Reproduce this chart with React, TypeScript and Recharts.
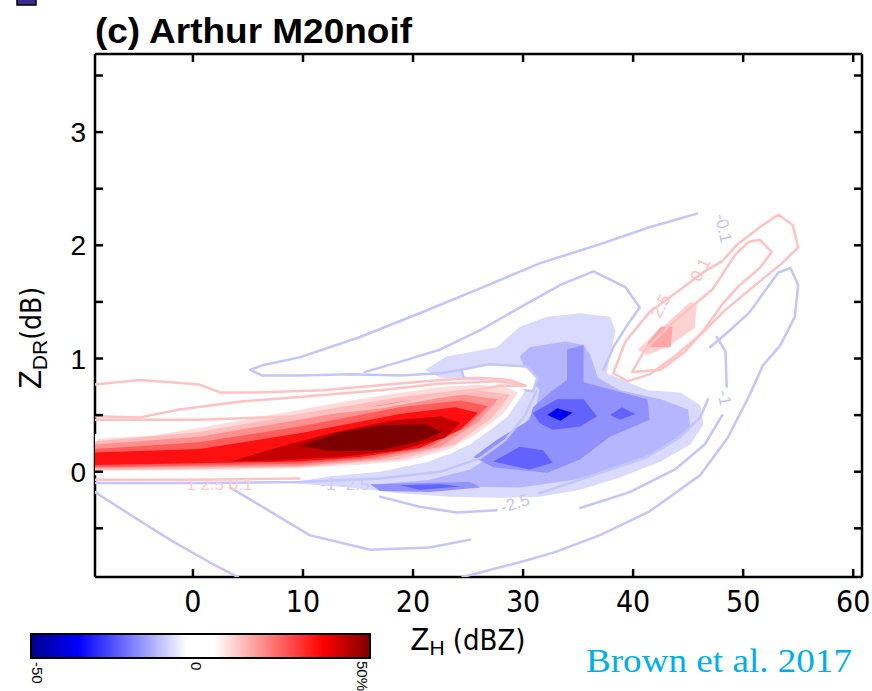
import React from 'react';
import { ScatterChart, Scatter, XAxis, YAxis } from 'recharts';

// axis ticks
const xTicks = [0, 10, 20, 30, 40, 50, 60];
const yTicks = [-0.5, 0, 0.5, 1, 1.5, 2, 2.5, 3, 3.5];
const yLabelled = [0, 1, 2, 3];

// filled contours, positive (red tongue) - [ZH, ZDR]
const red1 = [[-8.9, 0.31], [-3.9, 0.34], [0.6, 0.41], [5.2, 0.49], [9.7, 0.57], [14.3, 0.65], [18.8, 0.72], [22.5, 0.77], [26.1, 0.79], [28.4, 0.77], [29.9, 0.71], [28.4, 0.5], [26.1, 0.33], [23.4, 0.18], [19.7, 0.08], [15.2, 0.04], [9.7, 0.01], [0.6, -0.01], [-8.9, -0.01]];
const red2 = [[-8.9, 0.27], [0.6, 0.35], [9.7, 0.51], [18.8, 0.66], [25.2, 0.73], [28.8, 0.68], [27.2, 0.48], [23.8, 0.24], [18.8, 0.11], [9.7, 0.04], [-8.9, 0.01]];
const red3 = [[-8.9, 0.24], [0.6, 0.31], [9.7, 0.46], [18.8, 0.62], [24.7, 0.68], [27.7, 0.64], [25.9, 0.44], [22.5, 0.22], [17, 0.11], [9.7, 0.05], [-8.9, 0.03]];
const red4 = [[-8.9, 0.2], [0.6, 0.26], [9.7, 0.4], [18.8, 0.57], [24.3, 0.63], [26.8, 0.58], [25, 0.41], [21.5, 0.22], [16.1, 0.12], [9.7, 0.07], [-8.9, 0.04]];
const red5 = [[-8.9, 0.17], [0.6, 0.2], [9.7, 0.34], [18.8, 0.51], [23.8, 0.57], [25.9, 0.52], [24.3, 0.37], [20.6, 0.21], [15.2, 0.13], [9.7, 0.09], [-8.9, 0.06]];
const red6 = [[3.4, 0.09], [7.9, 0.22], [12.5, 0.34], [17.9, 0.45], [22.5, 0.49], [24.3, 0.43], [22.9, 0.3], [18.8, 0.19], [13.4, 0.13], [7.9, 0.1]];
const red7 = [[9.7, 0.23], [13.4, 0.35], [17, 0.41], [21.1, 0.42], [22.6, 0.35], [20.6, 0.27], [17, 0.19], [12.5, 0.18]];
// small positive blob near ZH 40-55
const blobFill1 = [[40.4, 1.08], [45.2, 1.5], [45.8, 1.48], [45.6, 1.27], [43.1, 1.1], [41.3, 1.03]];
const blobFill2 = [[41.3, 1.14], [42.5, 1.28], [43.6, 1.28], [43.4, 1.1], [41.6, 1.1]];

// filled contours, negative (blue)
const blue1 = [[8.8, -0.1], [14.3, -0.14], [18.8, -0.19], [23.4, -0.22], [27.9, -0.23], [31.5, -0.22], [35.2, -0.16], [38.8, -0.05], [42.5, 0.09], [45.2, 0.24], [46.4, 0.42], [46.1, 0.59], [44.3, 0.7], [41.3, 0.72], [37.6, 0.87], [37.9, 1.02], [38.4, 1.24], [37.9, 1.37], [35.2, 1.4], [32.2, 1.37], [29.7, 1.28], [27.6, 1.1], [23.1, 1.02], [21.1, 0.9], [22.5, 0.83], [26.1, 0.81], [27.9, 0.78], [29.3, 0.68], [27.9, 0.46], [25.2, 0.24], [21.5, 0.09], [17, 0], [12.5, -0.04]];
const blue2 = [[24.7, -0.13], [29.7, -0.14], [34.7, -0.07], [39.3, 0.06], [42.9, 0.21], [45.2, 0.39], [45, 0.55], [42.5, 0.64], [38.8, 0.72], [36.8, 0.83], [36.1, 1.03], [35.5, 1.12], [33.8, 1.15], [30.6, 1.1], [29.7, 1.02], [30.5, 0.83], [31.5, 0.72], [31.1, 0.55], [29.7, 0.37], [27.9, 0.19], [25.2, 0.02], [21.5, -0.07], [17, -0.11]];
const blue3 = [[25.5, 0.13], [27.6, 0.28], [30.6, 0.46], [30.9, 0.57], [32.7, 0.72], [34, 0.81], [34, 1.08], [35.5, 1.12], [35.5, 0.79], [41.3, 0.64], [41.5, 0.46], [37.9, 0.31], [35.2, 0.11], [32.2, -0.01], [27.3, 0.04]];
const blue3b = [[16.1, -0.11], [20.6, -0.1], [25.2, -0.09], [26.1, -0.14], [21.5, -0.18], [17, -0.17]];
const blue4 = [[30.9, 0.52], [33.1, 0.64], [35.5, 0.64], [36.7, 0.49], [35.2, 0.4], [32.7, 0.37], [31.5, 0.43]];
const blue4b = [[27.3, 0.09], [29.7, 0.22], [31.8, 0.19], [32.7, 0.08], [30.6, 0.02]];
const blue4c = [[37.9, 0.5], [39, 0.57], [40.2, 0.51], [38.8, 0.46]];
const blue4d = [[18.8, -0.12], [22.5, -0.11], [24.3, -0.13], [20.6, -0.16]];
const blue5 = [[32.2, 0.5], [33.1, 0.56], [34.5, 0.52], [33.4, 0.45]];
const hole = [[24.4, 0.9], [26.9, 0.95], [30.3, 0.93], [31.3, 0.83], [30.9, 0.71], [29.2, 0.73], [26.9, 0.8], [24.6, 0.83]];

// contour lines, negative
const negTop = [[45.8, 2.28], [41.5, 2.16], [37, 2.01], [31.5, 1.84], [26.1, 1.62], [20.6, 1.4], [15.2, 1.19], [9.7, 1.01], [6.3, 0.94], [5.2, 0.9], [6.3, 0.85], [9.7, 0.85], [14.3, 0.86], [18.8, 0.85], [22.5, 0.87], [24.4, 0.9]];
const negUnder = [[31.2, 0.71], [30.2, 0.5], [28.4, 0.28], [26.1, 0.12], [22.5, 0], [17, -0.06], [9.7, -0.09], [0.6, -0.1], [-8.9, -0.1]];
const negMid = [[15.6, 0.88], [18.8, 0.97], [22.5, 1.08], [26.1, 1.25], [29.7, 1.45], [33.4, 1.65], [36.4, 1.77], [39.3, 1.63], [40.6, 1.45], [39.5, 1.3], [38.2, 1.1], [37.3, 0.9]];
const negRight = [[47, 1.1], [48.8, 1.25], [50.6, 1.41], [52, 1.6], [53.2, 1.76], [54.3, 1.8], [55, 1.65], [54.7, 1.37], [53.4, 1.12], [51.8, 0.94], [50.6, 0.68], [48.6, 0.3], [46.1, -0.03], [41.5, -0.35], [37, -0.56], [32.9, -0.71], [29.7, -0.8], [24.5, -0.93]];
const negOne = [[47.6, 1.19], [48.4, 1.06], [48.5, 0.75]];
const negOneB = [[48.1, 0.5], [46.5, 0.24], [43.8, 0.02], [39.7, -0.18], [35.2, -0.32]];
const negLowL = [[-8.9, -0.18], [-5.7, -0.38], [-2.1, -0.6], [1.5, -0.8], [4.1, -0.93]];
const negArc = [[3.4, -0.14], [7, -0.35], [10.6, -0.56], [16.1, -0.69], [21.5, -0.67], [25.2, -0.6]];
const negTwoFive = [[17, -0.22], [20.6, -0.31], [24, -0.36], [27.6, -0.34]];
const negTwoFiveB = [[31.5, -0.19], [35.2, -0.07], [41.3, 0.13], [44.3, 0.31], [46.1, 0.48], [46.8, 0.64]];

// contour lines, positive
const posTop1 = [[-8.9, 0.77], [-4.8, 0.81], [0.6, 0.77], [2.5, 0.7], [5.8, 0.7], [11.8, 0.72], [18.8, 0.78], [22.5, 0.81], [26.1, 0.83], [28.8, 0.81], [30.2, 0.76]];
const posTop2 = [[-8.9, 0.49], [-4.8, 0.48], [-1.2, 0.55], [4.3, 0.62], [9.7, 0.66], [17, 0.72], [22.5, 0.78], [27.9, 0.8], [30.2, 0.76]];
const posTop3 = [[-8.9, 0.46], [0.6, 0.46], [9.7, 0.49], [17, 0.57], [23.4, 0.68], [27.9, 0.76], [30.2, 0.76]];
const posLow = [[-8.9, -0.07], [0.6, -0.07], [9.7, -0.06]];
const blobOuter = [[38.2, 0.87], [39.3, 1.15], [41.5, 1.41], [44.3, 1.61], [46.5, 1.77], [48.1, 1.86], [49.5, 2.01], [51.5, 2.16], [53.2, 2.27], [54.5, 2.18], [55, 1.98], [53.4, 1.83], [51.1, 1.65], [48.4, 1.43], [46.1, 1.21], [43.8, 1.02], [41.5, 0.86], [39.5, 0.8]];
const blobInner = [[39.9, 0.88], [41.1, 1.08], [43.4, 1.3], [45.6, 1.48], [47.2, 1.61], [48.1, 1.74], [49.3, 1.92], [50.5, 2.03], [51.5, 2.05], [52.6, 1.94], [51.5, 1.8], [49.7, 1.65], [48.1, 1.48], [46.5, 1.26], [44.7, 1.06], [42.5, 0.9]];

// contour labels
const labels = [
  { x: 48.1, y: 2.15, t: '-0.1', a: 78, c: '#c4c4ff' },
  { x: 46.2, y: 1.78, t: '0.1', a: -62, c: '#ffc0c0' },
  { x: 42.6, y: 1.46, t: '2.5', a: -62, c: '#ffc0c0' },
  { x: 48.2, y: 0.65, t: '-1', a: 80, c: '#c4c4ff' },
  { x: 29.3, y: -0.29, t: '-2.5', a: -18, c: '#c4c4ff' },
  { x: 2.4, y: -0.12, t: '1 2.5 0.1', a: 0, c: '#ffcaca' },
  { x: 13.8, y: -0.12, t: '-1  -2.5', a: 0, c: '#c8c8ff' },
];

const BLUE_LINE = '#c4c4ff';
const RED_LINE = '#ffc2c2';

const layers = [
  { d: blue1, fill: '#dadaff' },
  { d: blue2, fill: '#b6b6ff' },
  { d: blue3, fill: '#9090ff' },
  { d: blue3b, fill: '#9090ff' },
  { d: blue4, fill: '#6262ff' },
  { d: blue4b, fill: '#6262ff' },
  { d: blue4c, fill: '#6262ff' },
  { d: blue4d, fill: '#6262ff' },
  { d: blue5, fill: '#0000f5' },
  { d: hole, fill: '#ffffff', stroke: BLUE_LINE },
  { d: red1, fill: '#ffdcdc', stroke: '#ffffff', sw: 5 },
  { d: red2, fill: '#ffbaba' },
  { d: red3, fill: '#ff9090' },
  { d: red4, fill: '#ff5c5c' },
  { d: red5, fill: '#ff1010' },
  { d: red6, fill: '#c40000' },
  { d: red7, fill: '#7c0000' },
  { d: blobFill1, fill: '#ffd2d2' },
  { d: blobFill2, fill: '#ffa6a6' },
];

const lines = [
  { d: negTop, stroke: BLUE_LINE },
  { d: negUnder, stroke: BLUE_LINE },
  { d: negMid, stroke: BLUE_LINE },
  { d: negRight, stroke: BLUE_LINE },
  { d: negOne, stroke: BLUE_LINE },
  { d: negOneB, stroke: BLUE_LINE },
  { d: negLowL, stroke: BLUE_LINE },
  { d: negArc, stroke: BLUE_LINE },
  { d: negTwoFive, stroke: BLUE_LINE },
  { d: negTwoFiveB, stroke: BLUE_LINE },
  { d: posTop1, stroke: RED_LINE },
  { d: posTop2, stroke: RED_LINE },
  { d: posTop3, stroke: RED_LINE },
  { d: posLow, stroke: RED_LINE },
  { d: blobOuter, stroke: RED_LINE, closed: true },
  { d: blobInner, stroke: RED_LINE, closed: true },
];

const toPts = (a: number[][]) => a.map(([x, y]) => ({ x, y }));
const noDot = () => <g />;

const pathOf = (fill: string, stroke: string, sw: number, closed: boolean) => (props: any) => {
  const p = props.points || [];
  const d = p.map((q: any, i: number) => `${i ? 'L' : 'M'}${q.x},${q.y}`).join(' ') + (closed ? ' Z' : '');
  return <path d={d} fill={fill} stroke={stroke} strokeWidth={sw} strokeLinejoin="round" strokeLinecap="round" />;
};

const NUM_FONT = '"Liberation Sans Narrow", "DejaVu Sans Condensed", "Liberation Sans", sans-serif';
const SANS = '"Liberation Sans", Arial, sans-serif';

const BottomTick = (p: any) => (
  <g>
    <line x1={p.x} x2={p.x} y1={p.y} y2={p.y - 8} stroke="#000" strokeWidth={2.5} />
    <text x={p.x} y={p.y + 35} textAnchor="middle" fontSize={30} fontFamily={NUM_FONT} fill="#000">{p.payload.value}</text>
  </g>
);
const TopTick = (p: any) => <line x1={p.x} x2={p.x} y1={p.y} y2={p.y + 8} stroke="#000" strokeWidth={2.5} />;
const LeftTick = (p: any) => (
  <g>
    <line x1={p.x} x2={p.x + 8} y1={p.y} y2={p.y} stroke="#000" strokeWidth={2.5} />
    {yLabelled.includes(p.payload.value) && (
      <text x={p.x - 9} y={p.y + 10} textAnchor="end" fontSize={28} fontFamily={SANS} fill="#000">{p.payload.value}</text>
    )}
  </g>
);
const RightTick = (p: any) => <line x1={p.x} x2={p.x - 8} y1={p.y} y2={p.y} stroke="#000" strokeWidth={2.5} />;

const LabelShape = (p: any) => {
  const l = p.payload;
  return (
    <text x={p.cx} y={p.cy} transform={`rotate(${l.a} ${p.cx} ${p.cy})`} textAnchor="middle" dominantBaseline="middle" fontSize={17} fontFamily={SANS} fill={l.c}>{l.t}</text>
  );
};

export default function App() {
  const axisLine = { stroke: '#000', strokeWidth: 2.5 };
  return (
    <div style={{ position: 'absolute', left: 0, top: 0, width: 872, height: 691, background: '#fff', overflow: 'hidden' }}>
      <ScatterChart width={872} height={691} margin={{ top: 53, right: 9, bottom: 113, left: 94 }}>
        <XAxis xAxisId="b" type="number" dataKey="x" domain={[-8.9, 60.8]} allowDataOverflow ticks={xTicks} interval={0} height={1} tickSize={0} tickMargin={0} tick={BottomTick} axisLine={axisLine} />
        <XAxis xAxisId="t" orientation="top" type="number" dataKey="x" domain={[-8.9, 60.8]} allowDataOverflow ticks={xTicks} interval={0} height={1} tickSize={0} tickMargin={0} tick={TopTick} axisLine={axisLine} />
        <YAxis yAxisId="l" type="number" dataKey="y" domain={[-0.93, 3.69]} allowDataOverflow ticks={yTicks} interval={0} width={1} tickSize={0} tickMargin={0} tick={LeftTick} axisLine={axisLine} />
        <YAxis yAxisId="r" orientation="right" type="number" dataKey="y" domain={[-0.93, 3.69]} allowDataOverflow ticks={yTicks} interval={0} width={1} tickSize={0} tickMargin={0} tick={RightTick} axisLine={axisLine} />
        {layers.map((l, i) => (
          <Scatter key={'f' + i} xAxisId="b" yAxisId="l" data={toPts(l.d)} isAnimationActive={false} shape={noDot}
            line={pathOf(l.fill, l.stroke || 'none', l.sw || (l.stroke ? 2.5 : 0), true)} />
        ))}
        {lines.map((l, i) => (
          <Scatter key={'l' + i} xAxisId="b" yAxisId="l" data={toPts(l.d)} isAnimationActive={false} shape={noDot}
            line={pathOf('none', l.stroke, 2.5, !!l.closed)} />
        ))}
        <Scatter xAxisId="b" yAxisId="l" data={labels} isAnimationActive={false} shape={LabelShape} />
      </ScatterChart>
      <svg width={872} height={691} style={{ position: 'absolute', left: 0, top: 0, pointerEvents: 'none' }}>
        <defs>
          <linearGradient id="cbar" x1="0" x2="1" y1="0" y2="0">
            <stop offset="0" stopColor="#00008c" />
            <stop offset="0.14" stopColor="#0000ff" />
            <stop offset="0.46" stopColor="#ffffff" />
            <stop offset="0.54" stopColor="#ffffff" />
            <stop offset="0.86" stopColor="#ff0000" />
            <stop offset="1" stopColor="#800000" />
          </linearGradient>
        </defs>
        <rect x={17} y={-6} width={19} height={11} fill="#3b2e8f" stroke="#000" strokeWidth={1.5} />
        <text x={95} y={43} fontSize={35} fontWeight="bold" fontFamily={SANS} fill="#000" textLength={317} lengthAdjust="spacingAndGlyphs">(c) Arthur M20noif</text>
        <text transform="translate(41 338) rotate(-90)" textAnchor="middle" fontFamily={SANS} fill="#000">
          <tspan fontSize={31}>Z</tspan>
          <tspan fontSize={21} dy={6}>DR</tspan>
          <tspan fontSize={28} dy={-6} fontFamily={NUM_FONT}>(dB)</tspan>
        </text>
        <text x={468} y={650} textAnchor="middle" fontFamily={SANS} fill="#000">
          <tspan fontSize={31}>Z</tspan>
          <tspan fontSize={21} dy={5}>H</tspan>
          <tspan fontSize={29} dy={-5} fontFamily={NUM_FONT}> (dBZ)</tspan>
        </text>
        <rect x={31} y={634} width={339} height={24} fill="url(#cbar)" stroke="#000" strokeWidth={2} />
        <text transform="translate(32 662) rotate(90)" fontSize={15} fontFamily={SANS} fill="#000">-50</text>
        <text transform="translate(191 662) rotate(90)" fontSize={15} fontFamily={SANS} fill="#000">0</text>
        <text transform="translate(357 661) rotate(90)" fontSize={15} fontFamily={SANS} fill="#000">50%</text>
        <text x={586} y={672} fontSize={33} fontFamily='"Liberation Serif", "Times New Roman", serif' fill="#00aeef" textLength={266} lengthAdjust="spacingAndGlyphs">Brown et al. 2017</text>
      </svg>
    </div>
  );
}
